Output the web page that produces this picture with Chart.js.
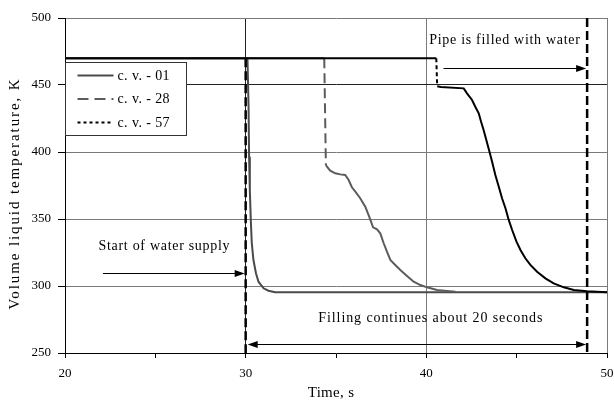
<!DOCTYPE html>
<html>
<head>
<meta charset="utf-8">
<script src="https://cdn.jsdelivr.net/npm/chart.js@4/dist/chart.umd.min.js"></script>
<style>
  html, body { margin: 0; padding: 0; background: #fff; }
  #wrap { width: 614px; height: 402px; }
</style>
</head>
<body>
<div id="wrap"><canvas id="c" width="614" height="402"></canvas></div>
<script>
// Control volume 01
const time01 = [20, 30.1, 30.16, 30.19, 30.23, 30.29, 30.34, 30.43, 30.57, 30.71, 30.99, 31.26, 31.63, 40, 50];
const temp01 = [470, 470, 433.8, 396.5, 371.6, 346.8, 331.9, 319.4, 309.5, 303.2, 298.3, 296.5, 295.3, 295.3, 295.3];

// Control volume 28
const time28 = [20, 34.35, 34.44, 34.5, 34.68, 34.96, 35.24, 35.51, 35.7, 35.88, 36.07, 36.34, 36.62, 36.8, 36.94, 37.05, 37.27, 37.45, 37.64, 37.82, 38.01, 38.28, 38.56, 38.93, 39.3, 39.67, 40.04, 40.59, 41.15, 41.61];
const temp28 = [470, 470, 390.3, 389, 386.1, 384.1, 383.3, 382.8, 379.1, 373.7, 370.4, 365.5, 359.2, 353, 348, 343.8, 342.3, 339.3, 331.9, 325.6, 319.4, 315.7, 311.9, 307.5, 303.2, 300.7, 299, 297, 296.3, 295.8];

// Control volume 57
const time57 = [20, 40.55, 40.6, 40.8, 42.07, 42.25, 42.53, 42.71, 42.9, 43.03, 43.17, 43.32, 43.47, 43.64, 43.82, 44.01, 44.19, 44.38, 44.56, 44.75, 44.99, 45.21, 45.48, 45.76, 46.13, 46.59, 47.05, 47.61, 48.16, 48.9, 50];
const temp57 = [470, 470, 449, 448.5, 447.5, 443.8, 438.8, 433.8, 428.9, 422.6, 416.4, 409, 401.5, 392.8, 382.8, 374.1, 365.5, 358, 349.3, 341.8, 333.1, 326.9, 320.7, 315.7, 310.7, 305.7, 302, 299, 297, 296, 295.3];

const seriesLabels = ['c. v. - 01', 'c. v. - 28', 'c. v. - 57'];

// Moments marked on the plot: start of supply and end of filling
const supplyStart = 30;
const fillEnd = 48.9;

// Axis ticks
const xTicks = [20, 25, 30, 35, 40, 45, 50];
const yTicks = [250, 300, 350, 400, 450, 500];

// Annotation texts
const noteStart = 'Start of water supply';
const noteFilled = 'Pipe is filled with water';
const noteFilling = 'Filling continues about 20 seconds';
const xTitle = 'Time, s';
const yTitle = 'Volume liquid temperature, K';

const SERIF = "'Liberation Serif', 'Times New Roman', serif";

const toPoints = (xs, ys) => xs.map((x, i) => ({ x, y: ys[i] }));

// Steep, nearly vertical steps are drawn dashed
const stepDash = (dash) => (ctx) => {
  const a = ctx.p0.parsed, b = ctx.p1.parsed;
  return (Math.abs(b.x - a.x) < 0.1 && Math.abs(b.y - a.y) > 10) ? dash : undefined;
};

const datasets = [
  {
    label: seriesLabels[0], data: toPoints(time01, temp01),
    borderColor: '#4a4a4a', borderWidth: 2, order: 2,
    legendDash: []
  },
  {
    label: seriesLabels[1], data: toPoints(time28, temp28),
    borderColor: '#5c5c5c', borderWidth: 2, order: 1,
    segment: { borderDash: stepDash([10, 5]) },
    legendDash: [11, 6]
  },
  {
    label: seriesLabels[2], data: toPoints(time57, temp57),
    borderColor: '#000', borderWidth: 2, order: 0,
    segment: { borderDash: stepDash([4, 3]) },
    legendDash: [3, 3]
  }
];

function arrowHead(ctx, x, y, dir) {
  ctx.beginPath();
  ctx.moveTo(x, y);
  ctx.lineTo(x - dir * 10, y - 3.5);
  ctx.lineTo(x - dir * 10, y + 3.5);
  ctx.closePath();
  ctx.fill();
}

const annotations = {
  id: 'annotations',
  afterDatasetsDraw(chart) {
    const { ctx, scales: { x, y } } = chart;
    ctx.save();
    // dashed markers
    ctx.strokeStyle = '#000';
    ctx.lineWidth = 2.5;
    ctx.setLineDash([9, 4]);
    ctx.beginPath();
    ctx.moveTo(x.getPixelForValue(supplyStart), y.getPixelForValue(470));
    ctx.lineTo(x.getPixelForValue(supplyStart), y.getPixelForValue(250));
    ctx.moveTo(x.getPixelForValue(fillEnd), y.getPixelForValue(500));
    ctx.lineTo(x.getPixelForValue(fillEnd), y.getPixelForValue(250));
    ctx.stroke();
    ctx.setLineDash([]);

    // arrows
    ctx.lineWidth = 1;
    ctx.fillStyle = '#000';
    const xs = x.getPixelForValue(supplyStart) - 1;
    const xe = x.getPixelForValue(fillEnd) - 1;
    let yy = Math.round(y.getPixelForValue(310)) + 0.5;
    ctx.beginPath(); ctx.moveTo(x.getPixelForValue(22.1), yy); ctx.lineTo(xs - 6, yy); ctx.stroke();
    arrowHead(ctx, xs, yy, 1);

    yy = Math.round(y.getPixelForValue(463)) + 0.5;
    ctx.beginPath(); ctx.moveTo(x.getPixelForValue(40.95), yy); ctx.lineTo(xe - 6, yy); ctx.stroke();
    arrowHead(ctx, xe, yy, 1);

    yy = Math.round(y.getPixelForValue(256.7)) + 0.5;
    ctx.beginPath(); ctx.moveTo(xs + 8, yy); ctx.lineTo(xe - 6, yy); ctx.stroke();
    arrowHead(ctx, xe, yy, 1);
    arrowHead(ctx, xs + 3, yy, -1);

    // texts
    ctx.font = '14px ' + SERIF;
    ctx.letterSpacing = '0.7px';
    ctx.textAlign = 'center';
    ctx.textBaseline = 'middle';
    ctx.fillStyle = '#000';
    ctx.fillText(noteStart, x.getPixelForValue(25.5), y.getPixelForValue(329.5));
    ctx.fillText(noteFilled, x.getPixelForValue(44.35), y.getPixelForValue(483.6));
    ctx.letterSpacing = '0.9px';
    ctx.fillText(noteFilling, x.getPixelForValue(40.25), y.getPixelForValue(276));
    ctx.restore();
  },
  afterDraw(chart) {
    const { ctx, chartArea: area } = chart;
    ctx.save();
    // axis titles
    ctx.fillStyle = '#000';
    ctx.font = '15px ' + SERIF;
    ctx.textAlign = 'center';
    ctx.textBaseline = 'middle';
    ctx.letterSpacing = '0.3px';
    ctx.fillText(xTitle, (area.left + area.right) / 2 - 5, area.bottom + 40);
    ctx.letterSpacing = '1.9px';
    ctx.translate(area.left - 50, (area.top + area.bottom) / 2 + 8);
    ctx.rotate(-Math.PI / 2);
    ctx.fillText(yTitle, 0, 0);
    ctx.restore();

    // legend box inside the plot
    ctx.save();
    const bx = area.left + 0.5, by = area.top + 44.5, bw = 121, bh = 73;
    ctx.fillStyle = '#fff';
    ctx.fillRect(bx, by, bw, bh);
    ctx.strokeStyle = '#333';
    ctx.lineWidth = 1;
    ctx.strokeRect(bx, by, bw, bh);
    ctx.font = '14px ' + SERIF;
    ctx.letterSpacing = '0.4px';
    ctx.textAlign = 'left';
    ctx.textBaseline = 'middle';
    chart.data.datasets.forEach((ds, i) => {
      const ly = by + 13 + i * 23.5;
      ctx.strokeStyle = ds.borderColor;
      ctx.lineWidth = 2;
      ctx.setLineDash(ds.legendDash);
      ctx.beginPath();
      ctx.moveTo(bx + 12, ly);
      ctx.lineTo(bx + 48, ly);
      ctx.stroke();
      ctx.setLineDash([]);
      ctx.fillStyle = '#000';
      ctx.fillText(ds.label, bx + 52, ly + 0.5);
    });
    ctx.restore();
  }
};

new Chart(document.getElementById('c'), {
  type: 'line',
  data: { datasets },
  plugins: [annotations],
  options: {
    responsive: false,
    animation: false,
    events: [],
    layout: { padding: { top: 18, right: 7, left: 0, bottom: 0 } },
    elements: { point: { radius: 0 }, line: { tension: 0, borderCapStyle: 'butt' } },
    plugins: { legend: { display: false }, tooltip: { enabled: false } },
    scales: {
      x: {
        type: 'linear', min: 20, max: 50,
        afterBuildTicks: (s) => { s.ticks = xTicks.map(v => ({ value: v })); },
        afterFit: (s) => { s.height = 49; s.paddingLeft = 0; s.paddingRight = 0; },
        border: { color: '#000', width: 1 },
        grid: {
          color: (c) => {
            const v = c.tick && c.tick.value;
            if (v === 30) return '#222';
            if (v === 40 || v === 50) return '#7a7a7a';
            return 'rgba(0,0,0,0)';
          },
          tickColor: '#000', tickLength: 5, lineWidth: 1
        },
        ticks: {
          autoSkip: false, maxRotation: 0, color: '#000', padding: 8,
          font: { family: SERIF, size: 13 },
          callback: (v) => (v % 10 === 0 ? String(v) : '')
        }
      },
      y: {
        type: 'linear', min: 250, max: 500,
        afterBuildTicks: (s) => { s.ticks = yTicks.map(v => ({ value: v })); },
        afterFit: (s) => { s.width = 65; s.paddingTop = 0; s.paddingBottom = 0; },
        border: { color: '#000', width: 1 },
        grid: {
          color: (c) => {
            const v = c.tick && c.tick.value;
            if (v === 450) return '#222';
            if (v === 250) return 'rgba(0,0,0,0)';
            return '#7a7a7a';
          },
          tickColor: '#000', tickLength: 7, lineWidth: 1
        },
        ticks: {
          color: '#000', padding: 7,
          font: { family: SERIF, size: 13 }
        }
      }
    }
  }
});
</script>
</body>
</html>
